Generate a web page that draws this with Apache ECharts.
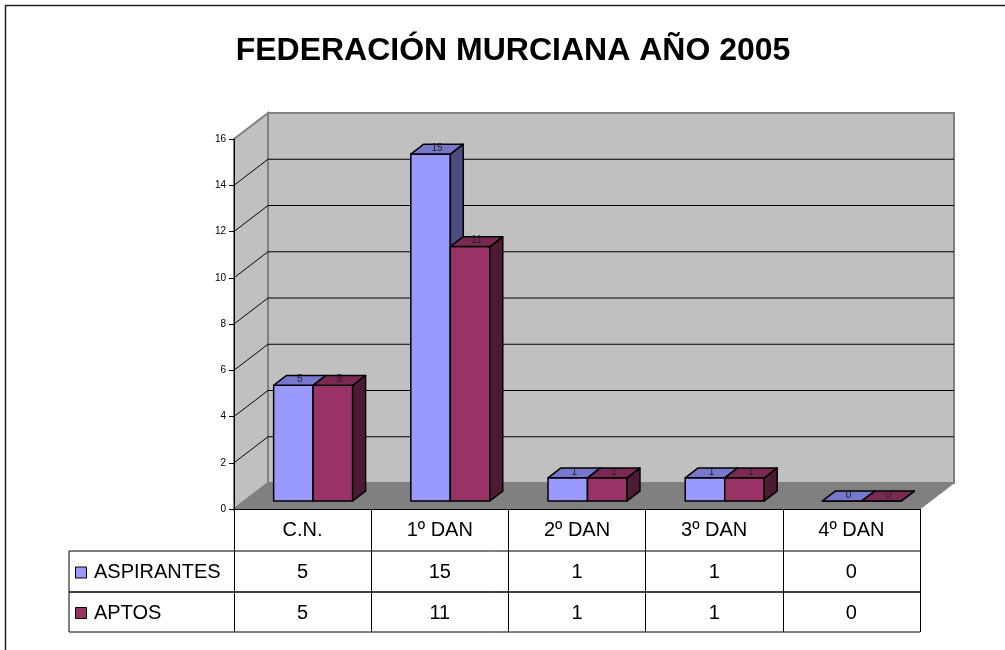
<!DOCTYPE html>
<html>
<head>
<meta charset="utf-8">
<script src="https://cdn.jsdelivr.net/npm/echarts@6/dist/echarts.min.js"></script>
<style>
html, body { margin: 0; padding: 0; background: #fff; }
#main { width: 1005px; height: 650px; }
</style>
</head>
<body>
<div id="main"></div>
<script>
// ---- data ----
var categories = ['C.N.', '1º DAN', '2º DAN', '3º DAN', '4º DAN'];
var aspirantes = [5, 15, 1, 1, 0];
var aptos = [5, 11, 1, 1, 0];
var seriesNames = ['ASPIRANTES', 'APTOS'];
var gridTicks = [2, 4, 6, 8, 10, 12, 14];

var FONT = "'Liberation Sans', Arial, sans-serif";
var DX = 34, DY = -26; // depth of the 3d box
var faces = [
	{ front: '#9999ff', top: '#7777cc', side: '#4c4c80' },
	{ front: '#993366', top: '#7a2952', side: '#4d1a33' }
];

/*-----walls, floor and gridlines-----*/
function renderWalls(params, api) {
	var cs = params.coordSys;
	var L = cs.x, R = cs.x + cs.width;
	var T = api.coord([0, 16])[1], B = api.coord([0, 0])[1];
	var kids = [];
	kids.push({ type: 'polygon', shape: { points: [[L, B], [L, T], [L + DX, T + DY], [L + DX, B + DY]] },
		style: { fill: '#c0c0c0', stroke: '#808080', lineWidth: 2 } });
	kids.push({ type: 'polygon', shape: { points: [[L + DX, T + DY], [R + DX, T + DY], [R + DX, B + DY], [L + DX, B + DY]] },
		style: { fill: '#c0c0c0', stroke: '#808080', lineWidth: 2 } });
	kids.push({ type: 'polygon', shape: { points: [[L, B], [R, B], [R + DX, B + DY], [L + DX, B + DY]] },
		style: { fill: '#808080', stroke: '#808080', lineWidth: 1 } });
	gridTicks.forEach(function(v) {
		var y = api.coord([0, v])[1];
		kids.push({ type: 'polyline', shape: { points: [[L, y], [L + DX, y + DY], [R + DX, y + DY]] },
			style: { stroke: '#000', lineWidth: 1, fill: null } });
	});
	return { type: 'group', children: kids };
}

/*-----3d bars-----*/
function barRender(s) {
	return function(params, api) {
		var i = api.value(0), v = api.value(1);
		var base = api.coord([i, 0]);
		var top = api.coord([i, v]);
		var band = api.size([1, 0])[0];
		var w = band * 0.288;
		var ox = DX * 0.31, oy = DY * 0.31;
		var dx = DX * 0.38, dy = DY * 0.38;
		var x0 = base[0] - w + s * w + ox, x1 = x0 + w;
		var yb = base[1] + oy, yt = top[1] + oy;
		var c = faces[s];
		var st = { stroke: '#000', lineWidth: 1.5, lineJoin: 'round' };
		return {
			type: 'group',
			children: [{
				type: 'polygon',
				shape: { points: [[x0, yb], [x1, yb], [x1, yt], [x0, yt]] },
				style: Object.assign({ fill: c.front }, st)
			}, {
				type: 'polygon',
				shape: { points: [[x1, yb], [x1, yt], [x1 + dx, yt + dy], [x1 + dx, yb + dy]] },
				style: Object.assign({ fill: c.side }, st)
			}, {
				type: 'polygon',
				shape: { points: [[x0, yt], [x1, yt], [x1 + dx, yt + dy], [x0 + dx, yt + dy]] },
				style: Object.assign({ fill: c.top }, st)
			}, {
				type: 'text',
				style: {
					text: String(v), x: (x0 + x1) / 2 + dx / 2, y: yt + dy / 2 - 1,
					align: 'center', verticalAlign: 'middle',
					font: '10px ' + FONT, fill: '#222'
				}
			}]
		};
	};
}

/*-----data table-----*/
var rowTops = [42, 83, 123]; // below the floor edge
function renderTableRow(params, api) {
	var s = api.value(1);
	var cs = params.coordSys;
	var R = cs.x + cs.width;
	var B = api.coord([0, 0])[1];
	var y0 = B + rowTops[s], y1 = B + rowTops[s + 1];
	var yc = (y0 + y1) / 2;
	return {
		type: 'group',
		children: [
			{ type: 'line', shape: { x1: 69, y1: y0, x2: R, y2: y0 }, style: { stroke: '#000', lineWidth: 1 } },
			{ type: 'line', shape: { x1: 69, y1: y1, x2: R, y2: y1 }, style: { stroke: '#000', lineWidth: 1 } },
			{ type: 'line', shape: { x1: 69, y1: y0, x2: 69, y2: y1 }, style: { stroke: '#000', lineWidth: 1 } },
			{ type: 'rect', shape: { x: 75.5, y: yc - 4.5, width: 11, height: 11 },
				style: { fill: faces[s].front, stroke: '#000', lineWidth: 1 } },
			{ type: 'text', style: { text: seriesNames[s], x: 94, y: yc + 1, verticalAlign: 'middle',
				font: '20px ' + FONT, fill: '#000' } }
		]
	};
}
function renderCell(params, api) {
	var i = api.value(0), s = api.value(1), v = api.value(2);
	var B = api.coord([0, 0])[1];
	var x = api.coord([i, 0])[0];
	var yc = B + (rowTops[s] + rowTops[s + 1]) / 2;
	return {
		type: 'text',
		style: { text: String(v), x: x, y: yc + 1, align: 'center', verticalAlign: 'middle',
			font: '20px ' + FONT, fill: '#000' }
	};
}

var allSeries = [aspirantes, aptos];
var barData = allSeries.map(function(arr) {
	return arr.map(function(v, i) { return [i, v]; });
});
var cellData = [];
allSeries.forEach(function(arr, s) {
	arr.forEach(function(v, i) { cellData.push([i, s, v]); });
});

var chart = echarts.init(document.getElementById('main'));
var option = {
	animation: false,
	backgroundColor: '#fff',
	grid: { left: 234, right: 85, top: 139, bottom: 141 },
	graphic: [{
		type: 'rect', shape: { x: 5.5, y: 5.5, width: 1200, height: 1200 },
		style: { fill: null, stroke: '#222', lineWidth: 1.5 }, z: 0
	}, {
		type: 'text', x: 513, y: 51,
		style: { text: 'FEDERACIÓN MURCIANA AÑO 2005', align: 'center', verticalAlign: 'middle',
			font: 'bold 32px ' + FONT, fill: '#000' }
	}],
	xAxis: {
		type: 'category',
		data: categories,
		z: 10,
		axisLine: { lineStyle: { color: '#000', width: 1 } },
		axisTick: { show: true, interval: 0, length: 123, lineStyle: { color: '#000' } },
		axisLabel: { interval: 0, margin: 11, fontSize: 20, color: '#000', fontFamily: FONT }
	},
	yAxis: {
		type: 'value',
		min: 0,
		max: 16,
		interval: 2,
		z: 10,
		splitLine: { show: false },
		axisLine: { show: true, lineStyle: { color: '#000', width: 1 } },
		axisTick: { show: true, length: 5, lineStyle: { color: '#000' } },
		axisLabel: { fontSize: 10, margin: 8, color: '#000', fontFamily: FONT }
	},
	series: [{
		type: 'custom', name: 'walls', clip: false, silent: true,
		renderItem: renderWalls, data: [[0, 0]]
	}, {
		type: 'custom', name: seriesNames[0], clip: false,
		renderItem: barRender(0), data: barData[0]
	}, {
		type: 'custom', name: seriesNames[1], clip: false,
		renderItem: barRender(1), data: barData[1]
	}, {
		type: 'custom', name: 'tableRows', clip: false, silent: true,
		renderItem: renderTableRow, data: [[0, 0], [0, 1]]
	}, {
		type: 'custom', name: 'tableCells', clip: false, silent: true,
		renderItem: renderCell, encode: { x: 0, y: 1 }, data: cellData
	}]
};
chart.setOption(option);
</script>
</body>
</html>
